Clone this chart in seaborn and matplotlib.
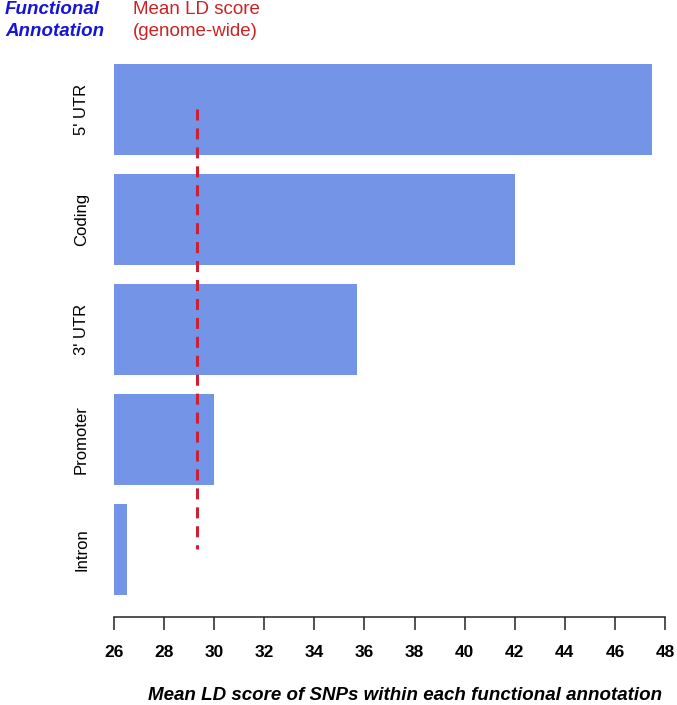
import matplotlib
matplotlib.use("Agg")
import matplotlib.pyplot as plt
import seaborn as sns
import pandas as pd

categories = ["5' UTR", "Coding", "3' UTR", "Promoter", "Intron"]
mean_ld = [47.5, 42.0, 35.7, 30.0, 26.5]
genome_mean = 29.3
x_ticks = [26, 28, 30, 32, 34, 36, 38, 40, 42, 44, 46, 48]

df = pd.DataFrame({"annotation": categories, "ld": mean_ld})

sns.set_theme(style="white")
plt.rcParams["font.family"] = ["Liberation Sans", "DejaVu Sans"]
plt.rcParams["text.color"] = "black"
plt.rcParams["xtick.color"] = "black"
plt.rcParams["ytick.color"] = "black"

W, H = 677, 705
fig = plt.figure(figsize=(W / 100, H / 100), dpi=100)
left_px, right_px, top_px, bot_px = 114, 665, 50, 617
ax = fig.add_axes([left_px / W, 1 - bot_px / H, (right_px - left_px) / W, (bot_px - top_px) / H])

sns.barplot(data=df, x="ld", y="annotation", orient="h", color="#7494E8",
            saturation=1, width=0.83, ax=ax, order=categories)
# bars start at the axis origin (26)
for p in ax.patches:
    w = p.get_width()
    p.set_x(x_ticks[0])
    p.set_width(w - x_ticks[0])
    p.set_edgecolor("none")

ax.vlines(genome_mean, 0, len(categories) - 1, colors="#CC2035",
          linestyles=(0, (3.6, 2.6)), linewidth=2.2)

ax.set_xlim(x_ticks[0], x_ticks[-1])
ax.set_ylim(4.614, -0.54)

for s in ["top", "right", "left"]:
    ax.spines[s].set_visible(False)
ax.spines["bottom"].set_color("#222222")
ax.spines["bottom"].set_linewidth(1.1)

ax.set_xticks(x_ticks)
ax.set_xticklabels([str(t) for t in x_ticks], fontsize=12.5, fontweight="bold")
ax.tick_params(axis="x", direction="out", length=9, width=1.1, color="#222222", pad=11, bottom=True)
ax.tick_params(axis="y", length=0, pad=18)
ax.set_yticks(range(len(categories)))
ax.set_yticklabels(categories, rotation=90, va="center", fontsize=12)
ax.set_xlabel("")
ax.set_ylabel("")

fig.text(405 / W, 1 - 695 / H, "Mean LD score of SNPs within each functional annotation",
         ha="center", va="center", fontsize=13.5, fontweight="bold", style="italic")
fig.text(5 / W, 1 - 10 / H, "Functional", ha="left", va="center", fontsize=13.5,
         fontweight="bold", style="italic", color="#1515D8")
fig.text(5 / W, 1 - 32 / H, "Annotation", ha="left", va="center", fontsize=13.5,
         fontweight="bold", style="italic", color="#1515D8")
fig.text(133 / W, 1 - 10 / H, "Mean LD score", ha="left", va="center", fontsize=13.5,
         color="#CC2222")
fig.text(133 / W, 1 - 32 / H, "(genome-wide)", ha="left", va="center", fontsize=13.5,
         color="#CC2222")

fig.savefig("out.png", dpi=100)
